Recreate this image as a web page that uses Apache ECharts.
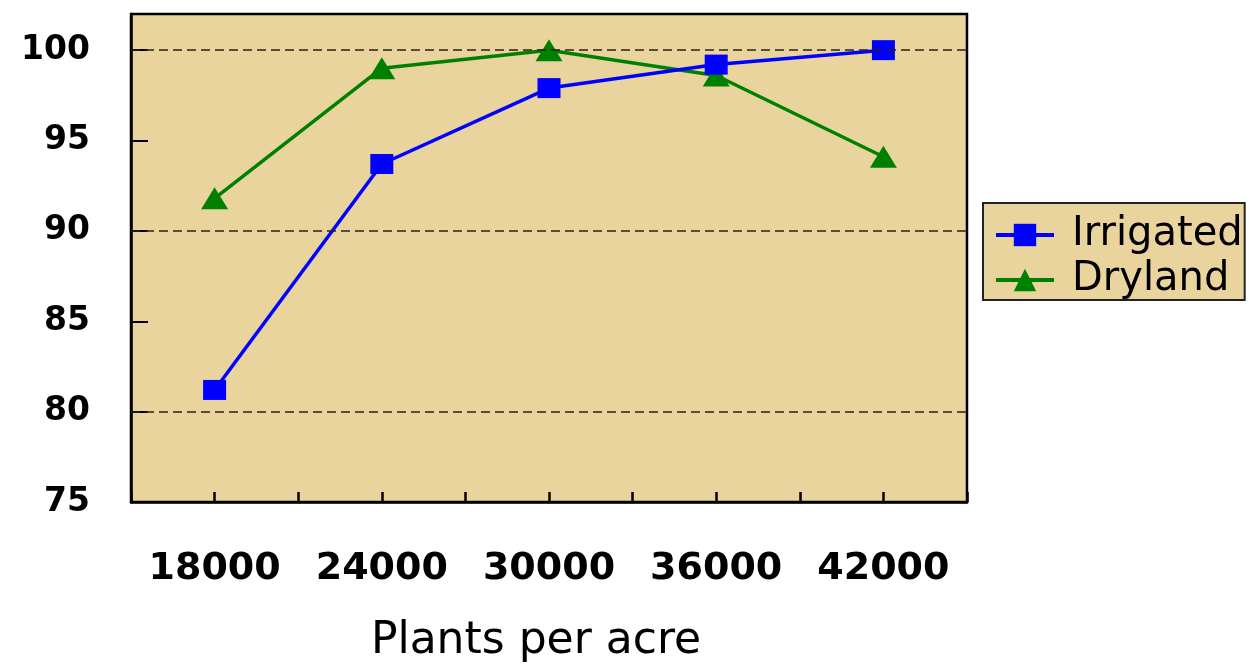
<!DOCTYPE html>
<html>
<head>
<meta charset="utf-8">
<script src="https://cdn.jsdelivr.net/npm/echarts@6/dist/echarts.min.js"></script>
<style>
html,body{margin:0;padding:0;background:#fff;}
#c{width:1249px;height:669px;}
</style>
</head>
<body>
<div id="c"></div>
<script>
const plants = [18000, 24000, 30000, 36000, 42000];
const irrigated = [81.2, 93.7, 97.9, 99.2, 100.0];
const dryland = [91.8, 99.0, 100.0, 98.6, 94.1];
const gridValues = [80, 90, 100];
const seriesNames = ['Irrigated', 'Dryland'];

const paper = '#EAD49E';
const font = 'DejaVu Sans';

const chart = echarts.init(document.getElementById('c'), null, {renderer: 'canvas'});
chart.setOption({
  backgroundColor: '#ffffff',
  animation: false,
  grid: {
    left: 131, top: 14, right: 282, bottom: 164,
    show: true, backgroundColor: paper, borderColor: '#000', borderWidth: 2.5
  },
  legend: {
    data: seriesNames,
    orient: 'vertical',
    left: 983, top: 203,
    backgroundColor: paper,
    borderColor: '#222', borderWidth: 2, borderRadius: 0,
    padding: [12, 2, 0, 11],
    itemWidth: 58, itemHeight: 28, itemGap: 5,
    lineStyle: {width: 4},
    textStyle: {fontFamily: font, fontSize: 40, lineHeight: 30, color: '#000', padding: [0, 0, 0, 13]}
  },
  xAxis: {
    type: 'value', min: 15000, max: 45000, interval: 3000,
    name: 'Plants per acre', nameLocation: 'middle', nameGap: 118,
    nameTextStyle: {fontFamily: font, fontSize: 44, color: '#000', padding: [0, 26, 0, 0]},
    axisLine: {show: true, lineStyle: {color: '#000', width: 2.5}},
    axisTick: {show: true, inside: true, length: 10, lineStyle: {color: '#000', width: 2.5}},
    splitLine: {show: false},
    axisLabel: {
      fontFamily: font, fontSize: 38, fontWeight: 'bold', color: '#000', margin: 48,
      formatter: v => (plants.indexOf(v) >= 0 ? String(v) : '')
    }
  },
  yAxis: {
    type: 'value', min: 75, max: 102, interval: 5,
    axisLine: {show: true, lineStyle: {color: '#000', width: 2.5}},
    axisTick: {show: true, inside: true, length: 17, lineStyle: {color: '#000', width: 2}},
    splitLine: {show: false},
    axisLabel: {
      fontFamily: font, fontSize: 33, fontWeight: 'bold', color: '#000', margin: 41,
      padding: [0, 0, 8, 0],
      formatter: v => (v % 5 === 0 ? String(v) : '')
    }
  },
  series: [
    {
      name: 'grid', type: 'line', data: [], z: 1, silent: true,
      markLine: {
        silent: true, symbol: 'none', label: {show: false},
        lineStyle: {color: '#2a2018', width: 1.6, type: [9, 5]},
        data: gridValues.map(v => ({yAxis: v}))
      }
    },
    {
      name: 'Irrigated', type: 'line', z: 3,
      data: plants.map((p, i) => [p, irrigated[i]]),
      symbol: 'rect', symbolSize: [23, 20],
      lineStyle: {color: '#0000FF', width: 3.5},
      itemStyle: {color: '#0000FF'}
    },
    {
      name: 'Dryland', type: 'line', z: 2,
      data: plants.map((p, i) => [p, dryland[i]]),
      symbol: 'triangle', symbolSize: [27, 22],
      lineStyle: {color: '#008000', width: 3.5},
      itemStyle: {color: '#008000'}
    }
  ]
});
</script>
</body>
</html>
